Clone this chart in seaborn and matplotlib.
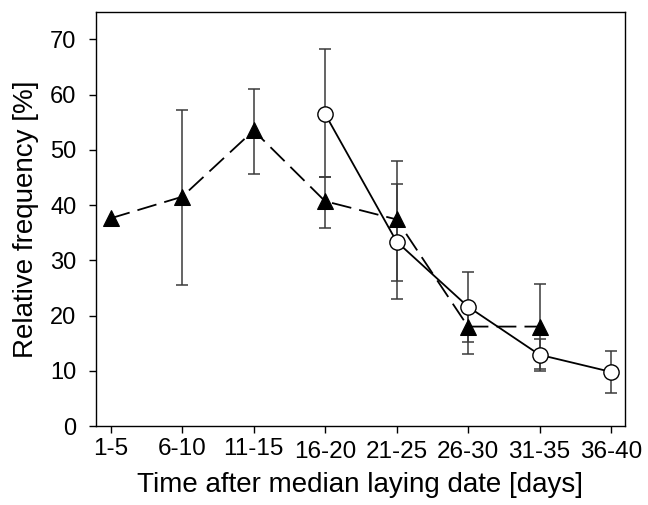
import matplotlib
matplotlib.use("Agg")
import matplotlib.pyplot as plt
import matplotlib.transforms as mtransforms
import numpy as np
import pandas as pd
import seaborn as sns

categories = ["1-5", "6-10", "11-15", "16-20", "21-25", "26-30", "31-35", "36-40"]

tri_mean = [37.6, 41.5, 53.5, 40.7, 37.4, 18.0, 18.0, np.nan]
tri_low = [np.nan, 25.5, 45.6, 35.8, 26.3, 15.2, 10.4, np.nan]
tri_high = [np.nan, 57.2, 61.0, 45.0, 43.9, 20.8, 25.7, np.nan]

circ_mean = [np.nan, np.nan, np.nan, 56.5, 33.4, 21.6, 12.9, 9.8]
circ_low = [np.nan, np.nan, np.nan, 45.0, 23.0, 13.0, 10.0, 6.0]
circ_high = [np.nan, np.nan, np.nan, 68.3, 47.9, 27.9, 15.8, 13.5]

sns.set_style("ticks")
plt.rcParams["font.family"] = ["Liberation Sans", "DejaVu Sans"]

fig = plt.figure(figsize=(6.48, 5.05), dpi=100)
ax = fig.add_axes([0.148, 0.1564, 0.8165, 0.8204])

x = np.arange(len(categories))
df_t = pd.DataFrame({"x": x, "y": tri_mean, "lo": tri_low, "hi": tri_high})
df_c = pd.DataFrame({"x": x, "y": circ_mean, "lo": circ_low, "hi": circ_high})

errc = "#3a3a3a"
for df in (df_t, df_c):
    d = df.dropna(subset=["lo"])
    ax.errorbar(d["x"], d["y"], yerr=[d["y"] - d["lo"], d["hi"] - d["y"]],
                fmt="none", ecolor=errc, elinewidth=1.1, capsize=4, capthick=1.1, zorder=2)

dt = df_t.dropna(subset=["y"])
sns.lineplot(data=dt, x="x", y="y", ax=ax, color="black", linewidth=1.3,
             linestyle=(0, (11, 4.5)), marker="^", markersize=11,
             markerfacecolor="black", markeredgecolor="black", zorder=3)
dc = df_c.dropna(subset=["y"])
sns.lineplot(data=dc, x="x", y="y", ax=ax, color="black", linewidth=1.3,
             marker="o", markersize=11, markerfacecolor="white",
             markeredgecolor="black", markeredgewidth=1.0, zorder=4)

ax.set_xlim(-0.206, 7.196)
ax.set_ylim(0, 75)
ax.set_yticks(range(0, 71, 10))
ax.set_xticks(x)
ax.set_xticklabels(categories)
ax.tick_params(axis="y", labelsize=17, length=5, width=1, direction="out", pad=9, colors="black")
ax.tick_params(axis="x", labelsize=17.5, length=5, width=1, direction="out", pad=6, colors="black")
for i, lab in enumerate(ax.get_xticklabels()):
    if i < 3:
        lab.set_transform(lab.get_transform() + mtransforms.ScaledTranslation(0, 3/100, fig.dpi_scale_trans))

for s in ax.spines.values():
    s.set_visible(True)
    s.set_color("black")
    s.set_linewidth(1.0)

ax.set_xlabel("Time after median laying date [days]", fontsize=20, labelpad=6, color="black")
ax.set_ylabel("Relative frequency [%]", fontsize=20, labelpad=8, color="black")

fig.savefig("out.png", dpi=100)
